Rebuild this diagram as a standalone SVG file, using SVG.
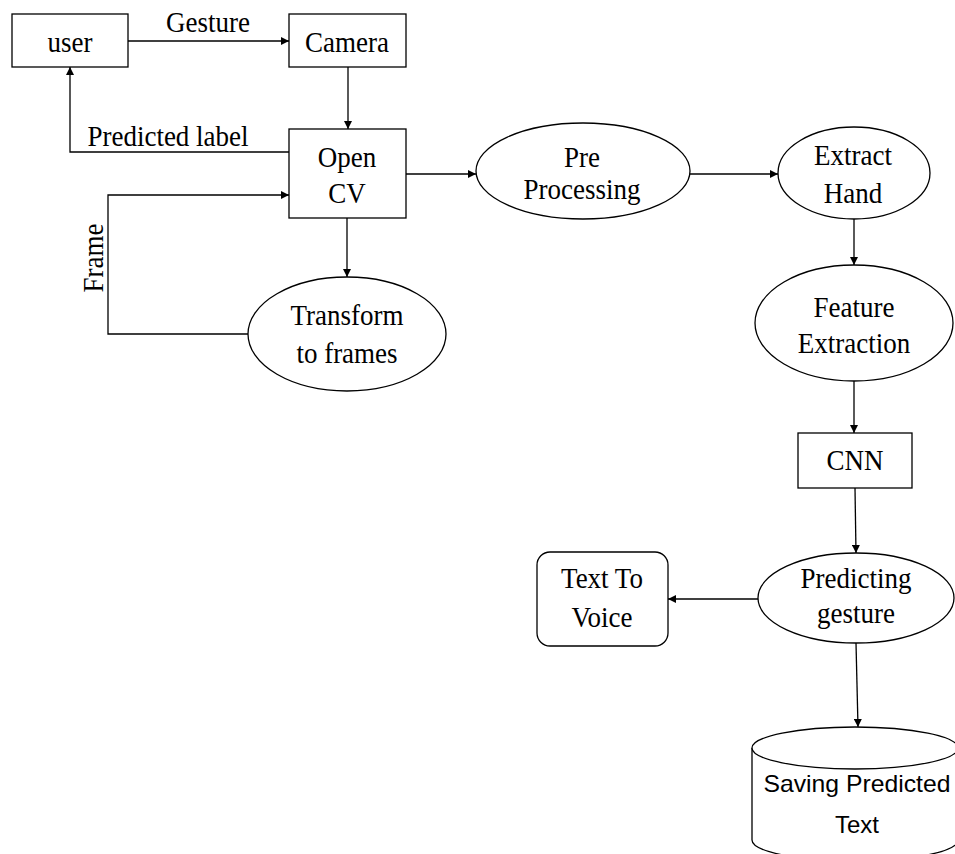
<svg xmlns="http://www.w3.org/2000/svg" width="955" height="854" viewBox="0 0 955 854">
<defs>
<style>
.n{fill:#fff;stroke:#000;stroke-width:1.3}
.t{font-family:"Liberation Serif","Times New Roman",serif;font-size:30px;fill:#000;text-anchor:middle;transform-box:fill-box;transform-origin:center;transform:scaleX(0.9)}
.s{font-family:"Liberation Sans",Arial,sans-serif;font-size:24px;fill:#000;text-anchor:middle}
.c{fill:none;stroke:#000;stroke-width:1.3}
</style>
<marker id="a" viewBox="0 0 10 10" refX="10" refY="5" markerWidth="9" markerHeight="8" markerUnits="userSpaceOnUse" orient="auto"><path d="M0,0 L10,5 L0,10 z" fill="#000"/></marker>
</defs>
<rect width="955" height="854" fill="#fff"/>
<g id="connectors">
<line class="c" x1="128" y1="41" x2="289" y2="41" marker-end="url(#a)"/>
<line class="c" x1="348" y1="67" x2="348" y2="129" marker-end="url(#a)"/>
<polyline class="c" points="289,152 70,152 70,67" marker-end="url(#a)"/>
<polyline class="c" points="248,334 108,334 108,195 289,195" marker-end="url(#a)"/>
<line class="c" x1="347" y1="218" x2="347" y2="277" marker-end="url(#a)"/>
<line class="c" x1="406" y1="174" x2="476" y2="174" marker-end="url(#a)"/>
<line class="c" x1="690" y1="174" x2="778" y2="174" marker-end="url(#a)"/>
<line class="c" x1="854" y1="219" x2="854" y2="265" marker-end="url(#a)"/>
<line class="c" x1="854" y1="381" x2="854" y2="433" marker-end="url(#a)"/>
<line class="c" x1="855" y1="488" x2="856" y2="553" marker-end="url(#a)"/>
<line class="c" x1="758" y1="599" x2="668" y2="599" marker-end="url(#a)"/>
<line class="c" x1="856" y1="643" x2="858" y2="727" marker-end="url(#a)"/>
<text class="t" x="208" y="32">Gesture</text>
<text class="t" x="168" y="146">Predicted label</text>
<g transform="translate(103,258) rotate(-90)"><text class="t" x="0" y="0">Frame</text></g>
</g>
<g id="user"><rect class="n" x="12" y="14" width="116" height="53"/><text class="t" x="70" y="52">user</text></g>
<g id="camera"><rect class="n" x="289" y="14" width="117" height="53"/><text class="t" x="347" y="52">Camera</text></g>
<g id="opencv"><rect class="n" x="289" y="129" width="117" height="89"/><text class="t" x="347" y="167">Open</text><text class="t" x="347" y="203">CV</text></g>
<g id="transform"><ellipse class="n" cx="347" cy="334" rx="99" ry="57"/><text class="t" x="347" y="325">Transform</text><text class="t" x="347" y="363">to frames</text></g>
<g id="preprocessing"><ellipse class="n" cx="583" cy="171" rx="107" ry="48"/><text class="t" x="582" y="167">Pre</text><text class="t" x="582" y="199">Processing</text></g>
<g id="extracthand"><ellipse class="n" cx="854" cy="173" rx="76" ry="46"/><text class="t" x="853" y="165">Extract</text><text class="t" x="853" y="203">Hand</text></g>
<g id="featureextraction"><ellipse class="n" cx="854" cy="323" rx="99" ry="58"/><text class="t" x="854" y="317">Feature</text><text class="t" x="854" y="353">Extraction</text></g>
<g id="cnn"><rect class="n" x="798" y="433" width="114" height="55"/><text class="t" x="855" y="470">CNN</text></g>
<g id="predicting"><ellipse class="n" cx="856" cy="598" rx="98" ry="45"/><text class="t" x="856" y="588">Predicting</text><text class="t" x="856" y="623">gesture</text></g>
<g id="texttovoice"><rect class="n" x="537" y="552" width="131" height="94" rx="13"/><text class="t" x="602" y="588">Text To</text><text class="t" x="602" y="627">Voice</text></g>
<g id="saving"><path class="n" d="M752,748 L752,840 A103,21 0 0 0 958,840 L958,748"/><ellipse class="n" cx="855" cy="748" rx="103" ry="21"/><text class="s" x="857" y="792" textLength="187" lengthAdjust="spacingAndGlyphs">Saving Predicted</text><text class="s" x="857" y="833">Text</text></g>
</svg>
